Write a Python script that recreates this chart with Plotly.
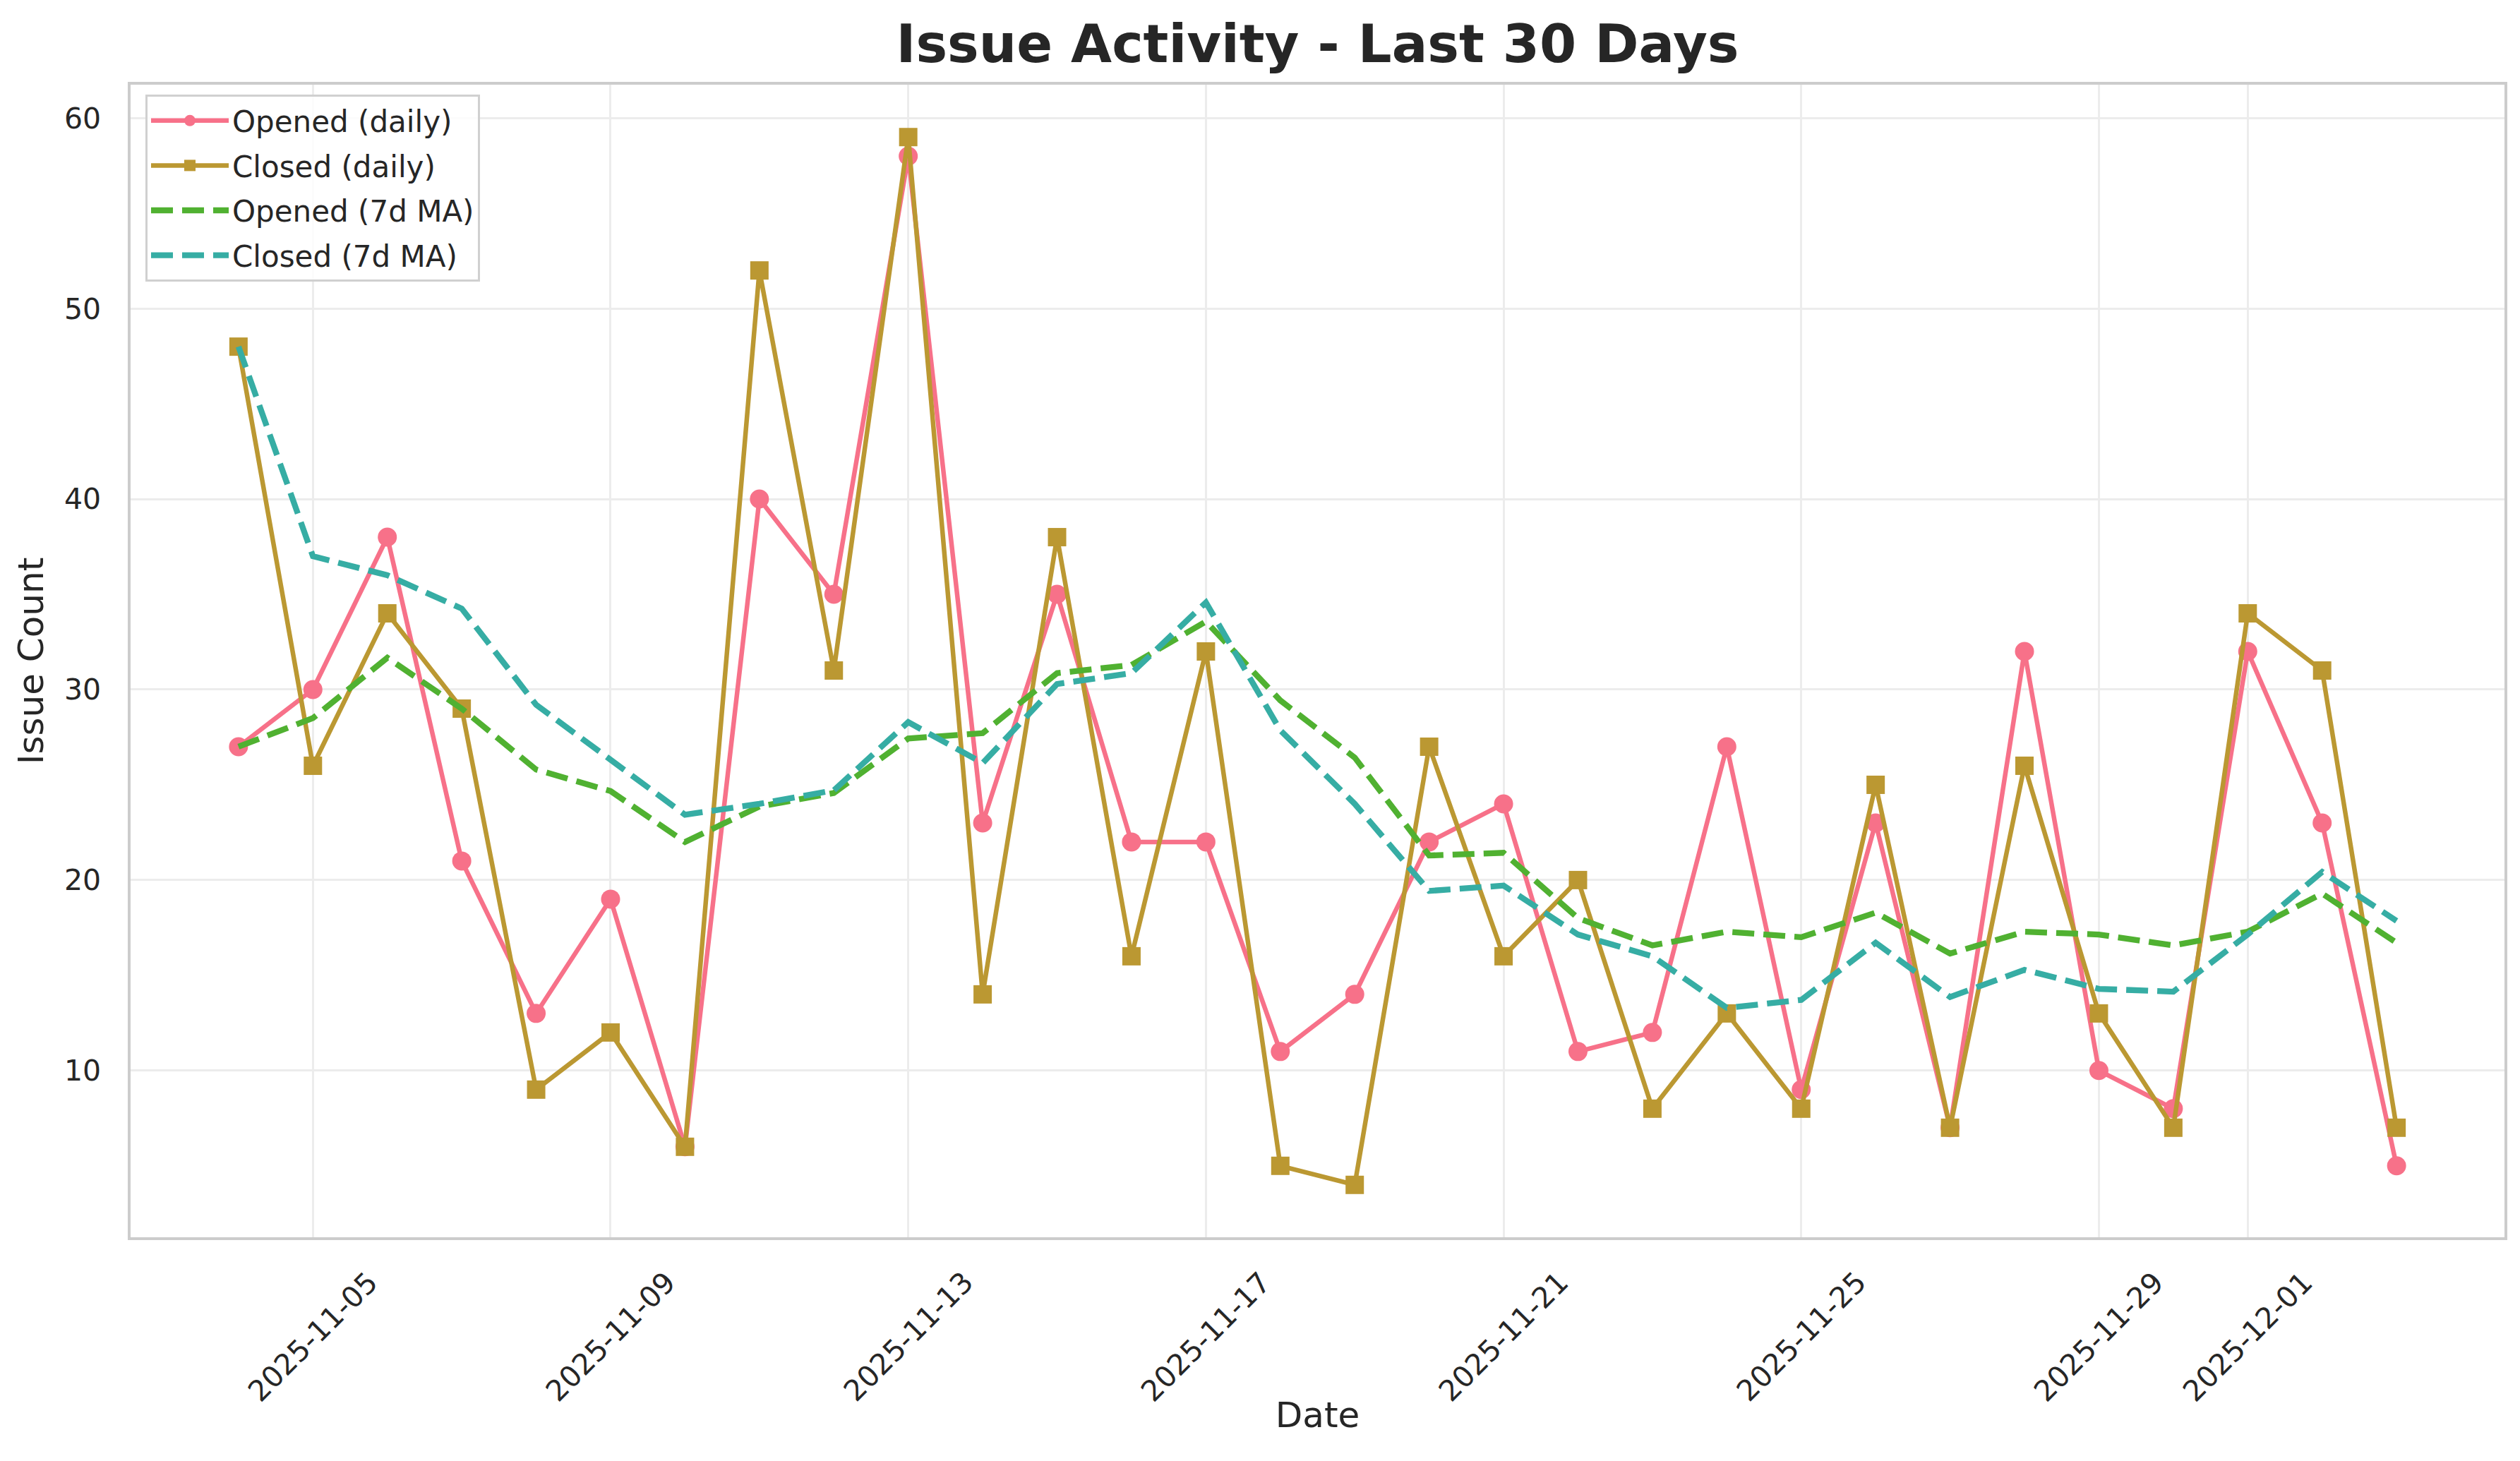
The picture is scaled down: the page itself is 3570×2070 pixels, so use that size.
import plotly.graph_objects as go

# ---- data ----
dates = [
    "2025-11-04", "2025-11-05", "2025-11-06", "2025-11-07", "2025-11-08",
    "2025-11-09", "2025-11-10", "2025-11-11", "2025-11-12", "2025-11-13",
    "2025-11-14", "2025-11-15", "2025-11-16", "2025-11-17", "2025-11-18",
    "2025-11-19", "2025-11-20", "2025-11-21", "2025-11-22", "2025-11-23",
    "2025-11-24", "2025-11-25", "2025-11-26", "2025-11-27", "2025-11-28",
    "2025-11-29", "2025-11-30", "2025-12-01", "2025-12-02", "2025-12-03",
]
opened_daily = [27, 30, 38, 21, 13, 19, 6, 40, 35, 58, 23, 35, 22, 22, 11,
                14, 22, 24, 11, 12, 27, 9, 23, 7, 32, 10, 8, 32, 23, 5]
closed_daily = [48, 26, 34, 29, 9, 12, 6, 52, 31, 59, 14, 38, 16, 32, 5,
                4, 27, 16, 20, 8, 13, 8, 25, 7, 26, 13, 7, 34, 31, 7]
opened_ma7 = [27.0, 28.5, 31.67, 29.0, 25.8, 24.67, 22.0, 23.86, 24.57, 27.43,
              27.71, 30.86, 31.29, 33.57, 29.43, 26.43, 21.29, 21.43, 18.0, 16.57,
              17.29, 17.0, 18.29, 16.14, 17.29, 17.14, 16.57, 17.29, 19.29, 16.71]
closed_ma7 = [48.0, 37.0, 36.0, 34.25, 29.2, 26.33, 23.43, 24.0, 24.71, 28.29,
              26.14, 30.29, 30.86, 34.57, 27.86, 24.0, 19.43, 19.71, 17.14, 16.0,
              13.29, 13.71, 16.71, 13.86, 15.29, 14.29, 14.14, 17.14, 20.43, 17.86]

x_tick_dates = ["2025-11-05", "2025-11-09", "2025-11-13", "2025-11-17",
                "2025-11-21", "2025-11-25", "2025-11-29", "2025-12-01"]
y_ticks = [10, 20, 30, 40, 50, 60]

title_text = "Issue Activity - Last 30 Days"
x_title = "Date"
y_title = "Issue Count"

# ---- style ----
FONT = "DejaVu Sans"
TEXT = "#262626"
C_OPEN = "#f77189"
C_CLOSE = "#bb9832"
C_OPEN_MA = "#50b131"
C_CLOSE_MA = "#36ada4"

W, H = 3570, 2070
ML, MR, MT, MB = 177, 30, 112, 325
plot_h = H - MT - MB

fig = go.Figure()
fig.add_trace(go.Scatter(
    x=dates, y=opened_daily, mode="lines+markers", name="Opened (daily)",
    line=dict(color=C_OPEN, width=6.5),
    marker=dict(symbol="circle", size=27, color=C_OPEN),
    legendgroup="a"))
fig.add_trace(go.Scatter(
    x=dates, y=closed_daily, mode="lines+markers", name="Closed (daily)",
    line=dict(color=C_CLOSE, width=6.5),
    marker=dict(symbol="square", size=26, color=C_CLOSE),
    legendgroup="b"))
fig.add_trace(go.Scatter(
    x=dates, y=opened_ma7, mode="lines", name="Opened (7d MA)",
    line=dict(color=C_OPEN_MA, width=8.3, dash="31px,13px"),
    legendgroup="c"))
fig.add_trace(go.Scatter(
    x=dates, y=closed_ma7, mode="lines", name="Closed (7d MA)",
    line=dict(color=C_CLOSE_MA, width=8.3, dash="31px,13px"),
    legendgroup="d"))

# rotated, centre-aligned date labels (matplotlib style)
label_y = -(1782 - (H - MB)) / plot_h
for d in x_tick_dates:
    fig.add_annotation(
        x=d, y=label_y, xref="x", yref="paper", text=d, showarrow=False,
        textangle=-45, xanchor="center", yanchor="top",
        font=dict(family=FONT, size=41, color=TEXT))

fig.update_layout(
    width=W, height=H,
    margin=dict(l=ML, r=MR, t=MT, b=MB, autoexpand=False),
    paper_bgcolor="white", plot_bgcolor="white",
    font=dict(family=FONT, color=TEXT, size=41),
    title=dict(text=title_text, x=(ML + (W - MR)) / 2 / W, xanchor="center",
               y=1 - 54 / H, yanchor="middle",
               font=dict(family=FONT, size=75, color=TEXT, weight="bold")),
    legend=dict(
        x=(198 - ML) / (W - ML - MR), y=1 - (126 - MT) / plot_h,
        xanchor="left", yanchor="top",
        bgcolor="rgba(255,255,255,0.85)", bordercolor="#d0d0d0", borderwidth=3,
        font=dict(family=FONT, size=42, color=TEXT),
        itemwidth=110, tracegroupgap=6),
    showlegend=True,
)

fig.update_xaxes(
    type="date",
    range=["2025-11-02 13:12", "2025-12-04 10:48"],
    tickmode="array", tickvals=x_tick_dates, showticklabels=False,
    showgrid=True, gridcolor="#ececec", gridwidth=3,
    showline=True, linecolor="#cccccc", linewidth=3.5, mirror=True,
    zeroline=False, ticks="",
    title=dict(text=x_title, font=dict(family=FONT, size=50, color=TEXT),
               standoff=232),
)
fig.update_yaxes(
    range=[1.25, 61.75],
    tickmode="array", tickvals=y_ticks,
    tickfont=dict(family=FONT, size=41, color=TEXT),
    showgrid=True, gridcolor="#ececec", gridwidth=3,
    showline=True, linecolor="#cccccc", linewidth=3.5, mirror=True,
    zeroline=False, ticks="", ticklabelstandoff=30,
    title=dict(text=y_title, font=dict(family=FONT, size=50, color=TEXT),
               standoff=14),
)

fig.write_html("out.html")
